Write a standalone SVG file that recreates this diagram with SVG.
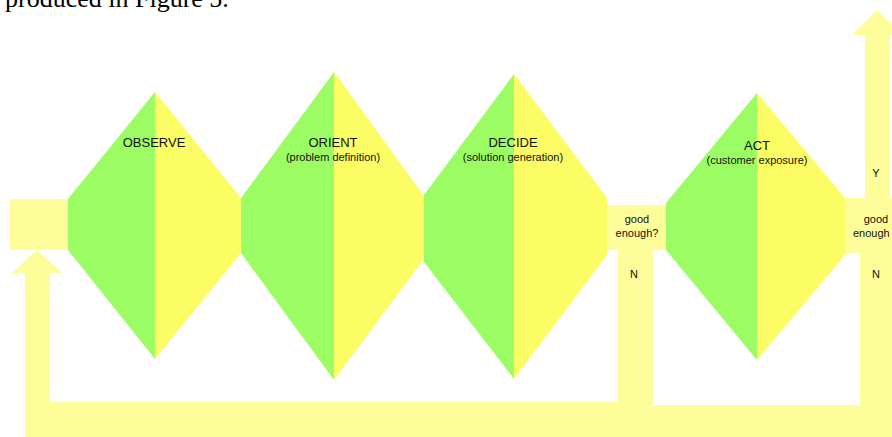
<svg xmlns="http://www.w3.org/2000/svg" width="892" height="437" viewBox="0 0 892 437">
<style>
.g{fill:#9cfc64}
.y{fill:#fcfc64}
.c{fill:#fdfd9a}
.t{font-family:"Liberation Sans",Arial,sans-serif;fill:#111;text-anchor:middle}
.h{font-size:13px}
.s{font-size:11px}
</style>
<rect width="892" height="437" fill="#ffffff"/>
<text x="5" y="7" font-family="Liberation Serif,Times New Roman,serif" font-size="26" fill="#000">produced in Figure 5.</text>
<g id="connectors">
<rect class="c" x="10" y="199" width="59" height="51"/>
<polygon class="c" points="37,250 62,273 50,273 50,437 25,437 25,273 12,273"/>
<rect class="c" x="25" y="402" width="628" height="35"/>
<rect class="c" x="606" y="205" width="61" height="45"/>
<rect class="c" x="618" y="250" width="35" height="187"/>
<rect class="c" x="653" y="405" width="239" height="32"/>
<rect class="c" x="845" y="198" width="47" height="55"/>
<rect class="c" x="860" y="253" width="32" height="184"/>
<polygon class="c" points="865,198 865,35 852,35 877,10 902,35 890,35 890,198"/>
</g>
<g id="observe">
<polygon class="g" points="155,92 155,359 68,250 68,199"/>
<polygon class="y" points="155,92 241,198 241,253 155,359"/>
<text class="t h" x="154" y="147">OBSERVE</text>
</g>
<g id="orient">
<polygon class="g" points="334,72 334,380 241,253 241,198"/>
<polygon class="y" points="334,72 424,196 424,259 334,380"/>
<text class="t h" x="333" y="147">ORIENT</text>
<text class="t s" x="333" y="161">(problem definition)</text>
</g>
<g id="decide">
<polygon class="g" points="514,74 514,379 424,262 424,195"/>
<polygon class="y" points="514,74 607,198 607,255 514,379"/>
<text class="t h" x="513" y="147">DECIDE</text>
<text class="t s" x="513" y="161">(solution generation)</text>
</g>
<g id="check1">
<text class="t s" x="637" y="223">good</text>
<text class="t s" x="637" y="237">enough?</text>
<text class="t s" x="634" y="278">N</text>
</g>
<g id="act">
<polygon class="g" points="757,93 757,360 666,250 666,203"/>
<polygon class="y" points="757,93 845,198 845,255 757,360"/>
<text class="t h" x="757" y="150">ACT</text>
<text class="t s" x="757" y="164">(customer exposure)</text>
</g>
<g id="check2">
<text class="t s" x="876" y="177">Y</text>
<text class="t s" x="876" y="223">good</text>
<text class="t s" x="853" y="237" style="text-anchor:start">enough</text>
<text class="t s" x="876" y="278">N</text>
</g>
</svg>
